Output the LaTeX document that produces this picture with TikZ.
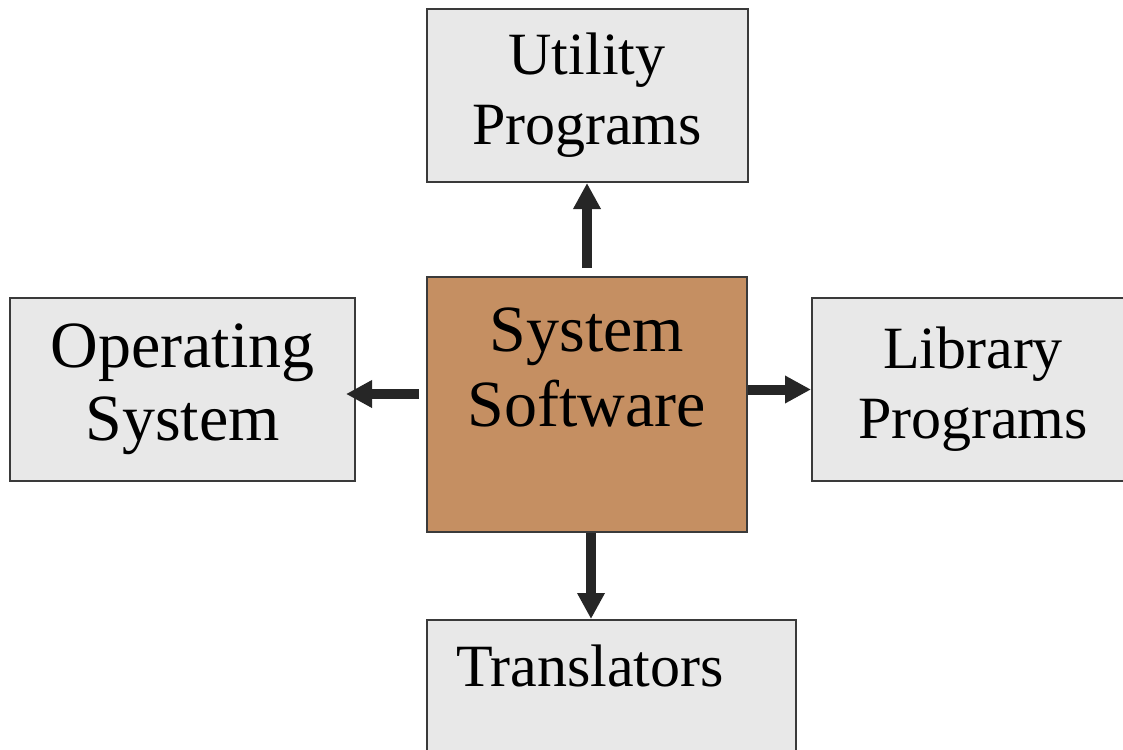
\documentclass[tikz,border=0pt]{standalone}
\usepackage{fontspec}
\setmainfont{Liberation Serif}
\usetikzlibrary{arrows.meta, positioning}
\definecolor{granite}{RGB}{232,232,232}
\definecolor{cork}{RGB}{197,143,98}
\definecolor{edge}{RGB}{58,58,58}
\definecolor{ink}{RGB}{38,38,38}
\tikzset{
    x=0.5pt, y=-0.5pt, % one unit is one pixel of the picture, y runs down
    box/.style = {draw=edge, line width=1pt, fill=granite, align=center, inner sep=0pt}, % the grey boxes
    corkbox/.style = {box, fill=cork}, % the brown box in the middle
    small/.style = {font=\fontsize{30}{35}\selectfont},
    big/.style = {font=\fontsize{33}{37.5}\selectfont},
    link/.style = {draw=ink, line width=5pt, -{Triangle[length=13pt,width=13pt]}} % the fat arrows
}

\begin{document}
\begin{tikzpicture}
\useasboundingbox (0,0) rectangle (1123,749);
\clip (0,0) rectangle (1123,749);

\node[corkbox, minimum width=160pt, minimum height=127.5pt] (sys) at (587,404.5) {};
\node[big, align=center, inner sep=0pt] (systext) at ([yshift=18.5pt]sys.center) {System\\Software};
\node[box, small, minimum width=160.5pt, minimum height=86.5pt] (util) [above=46.5pt of sys] {Utility\\Programs};
\node[box, font=\fontsize{33}{36.5}\selectfont, minimum width=172.5pt, minimum height=91.5pt] (os) [left=35pt of sys, yshift=7.5pt] {Operating\\System};
\node[box, small, minimum width=161pt, minimum height=91.5pt] (lib) [right=31.5pt of sys, yshift=7.5pt] {Library\\Programs};
\node[box, minimum width=184.5pt, minimum height=90pt] (trans) [below=43pt of sys, xshift=12.25pt] {};
\node[small, anchor=base, inner sep=0pt] (transtext) at ([xshift=-10.75pt, yshift=-33.5pt]trans.north) {Translators};

\draw[link] ([yshift=4pt]sys.north) -- (util.south);
\draw[link] ([xshift=-3.5pt, yshift=5.25pt]sys.west) -- ([xshift=-5pt, yshift=-2.25pt]os.east);
\draw[link] ([yshift=7.5pt]sys.east) -- (lib.west);
\draw[link] ([xshift=2pt]sys.south) -- ([xshift=-10.25pt]trans.north);
\end{tikzpicture}
\end{document}
